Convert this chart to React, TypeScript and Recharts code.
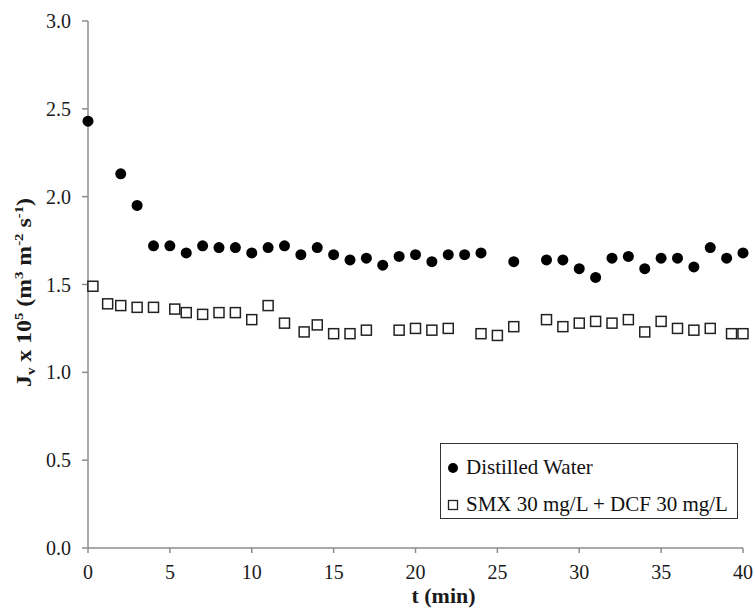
import { ScatterChart, Scatter, XAxis, YAxis, Legend, Label } from 'recharts';

// flux vs time (Jv x 10^5, m3 m-2 s-1)
const distilledTime = [0, 2, 3, 4, 5, 6, 7, 8, 9, 10, 11, 12, 13, 14, 15, 16, 17, 18, 19, 20, 21, 22, 23, 24, 26, 28, 29, 30, 31, 32, 33, 34, 35, 36, 37, 38, 39, 40];
const distilledFlux = [2.43, 2.13, 1.95, 1.72, 1.72, 1.68, 1.72, 1.71, 1.71, 1.68, 1.71, 1.72, 1.67, 1.71, 1.67, 1.64, 1.65, 1.61, 1.66, 1.67, 1.63, 1.67, 1.67, 1.68, 1.63, 1.64, 1.64, 1.59, 1.54, 1.65, 1.66, 1.59, 1.65, 1.65, 1.6, 1.71, 1.65, 1.68];

const smxTime = [0.3, 1.2, 2, 3, 4, 5.3, 6, 7, 8, 9, 10, 11, 12, 13.2, 14, 15, 16, 17, 19, 20, 21, 22, 24, 25, 26, 28, 29, 30, 31, 32, 33, 34, 35, 36, 37, 38, 39.3, 40];
const smxFlux = [1.49, 1.39, 1.38, 1.37, 1.37, 1.36, 1.34, 1.33, 1.34, 1.34, 1.3, 1.38, 1.28, 1.23, 1.27, 1.22, 1.22, 1.24, 1.24, 1.25, 1.24, 1.25, 1.22, 1.21, 1.26, 1.3, 1.26, 1.28, 1.29, 1.28, 1.3, 1.23, 1.29, 1.25, 1.24, 1.25, 1.22, 1.22];

const xTicks = [0, 5, 10, 15, 20, 25, 30, 35, 40];
const yTicks = [0, 0.5, 1, 1.5, 2, 2.5, 3];

const seriesNames = ['Distilled Water', 'SMX 30 mg/L + DCF 30 mg/L'];

const distilled = distilledTime.map((t, i) => ({ t, j: distilledFlux[i] }));
const smx = smxTime.map((t, i) => ({ t, j: smxFlux[i] }));

const FONT = 'Liberation Serif, Times New Roman, serif';
const AXIS = '#8c8c8c';
const INK = '#1a1a1a';

const Dot = (props: any) => <circle cx={props.cx} cy={props.cy} r={5.5} fill="#000" />;

const OpenSquare = (props: any) => (
  <rect x={props.cx - 5} y={props.cy - 5} width={10} height={10} fill="#fff" stroke="#222" strokeWidth={1.5} />
);

const YTitle = (props: any) => {
  const vb = props.viewBox;
  const x = 31;
  const y = vb.y + vb.height / 2 + 8;
  return (
    <text
      x={x}
      y={y}
      transform={`rotate(-90, ${x}, ${y})`}
      textAnchor="middle"
      textLength={189}
      lengthAdjust="spacingAndGlyphs"
      style={{ fontFamily: FONT }}
      fontWeight="bold"
      fontSize={21}
      fill={INK}
    >
      J<tspan fontSize={13} dy={4}>v</tspan>
      <tspan dy={-4}> x 10</tspan>
      <tspan fontSize={13} dy={-8}>5</tspan>
      <tspan dy={8}> (m</tspan>
      <tspan fontSize={13} dy={-8}>3</tspan>
      <tspan dy={8}> m</tspan>
      <tspan fontSize={13} dy={-8}>-2</tspan>
      <tspan dy={8}> s</tspan>
      <tspan fontSize={13} dy={-8}>-1</tspan>
      <tspan dy={8}>)</tspan>
    </text>
  );
};

const XTitle = (props: any) => {
  const vb = props.viewBox;
  return (
    <text
      x={vb.x + vb.width / 2 + 28}
      y={603}
      textAnchor="middle"
      textLength={64}
      lengthAdjust="spacingAndGlyphs"
      style={{ fontFamily: FONT }}
      fontWeight="bold"
      fontSize={21}
      fill={INK}
    >
      t (min)
    </text>
  );
};

const LegendBox = () => (
  <div
    style={{
      width: 298,
      height: 76,
      boxSizing: 'border-box',
      border: '1.5px solid #333',
      background: '#fff',
      fontFamily: FONT,
      fontSize: 21,
      color: '#111',
      padding: '5px 0 0 5px',
    }}
  >
    {seriesNames.map((name, i) => (
      <div key={name} style={{ display: 'flex', alignItems: 'center', height: 37, whiteSpace: 'nowrap' }}>
        <svg width={16} height={16} style={{ marginRight: 4 }}>
          {i === 0 ? (
            <circle cx={7} cy={8} r={5} fill="#000" />
          ) : (
            <rect x={2.5} y={3.5} width={9} height={9} fill="#fff" stroke="#222" strokeWidth={1.3} />
          )}
        </svg>
        <span>{name}</span>
      </div>
    ))}
  </div>
);

export default function App() {
  return (
    <div style={{ width: 755, height: 608, background: '#fff', fontFamily: FONT }}>
      <style>{`body{margin:0}`}</style>
      <ScatterChart width={755} height={608} margin={{ top: 21, right: 12, left: 0, bottom: 0 }}>
        <XAxis
          type="number"
          dataKey="t"
          domain={[0, 40]}
          ticks={xTicks}
          height={60}
          stroke={AXIS}
          strokeWidth={1.5}
          tickSize={5}
          tickMargin={12}
          tick={{ fill: INK, fontFamily: FONT, fontSize: 20 }}
        >
          <Label content={XTitle} />
        </XAxis>
        <YAxis
          type="number"
          dataKey="j"
          domain={[0, 3]}
          ticks={yTicks}
          width={88}
          stroke={AXIS}
          strokeWidth={1.5}
          tickSize={6}
          tickMargin={11}
          tickFormatter={(v: number) => v.toFixed(1)}
          tick={{ fill: INK, fontFamily: FONT, fontSize: 20 }}
        >
          <Label content={YTitle} />
        </YAxis>
        <Legend
          layout="vertical"
          align="center"
          verticalAlign="middle"
          content={() => <LegendBox />}
          wrapperStyle={{ left: 440, top: 443, width: 298 }}
        />
        <Scatter name={seriesNames[0]} data={distilled} shape={Dot} isAnimationActive={false} />
        <Scatter name={seriesNames[1]} data={smx} shape={OpenSquare} isAnimationActive={false} />
      </ScatterChart>
    </div>
  );
}
